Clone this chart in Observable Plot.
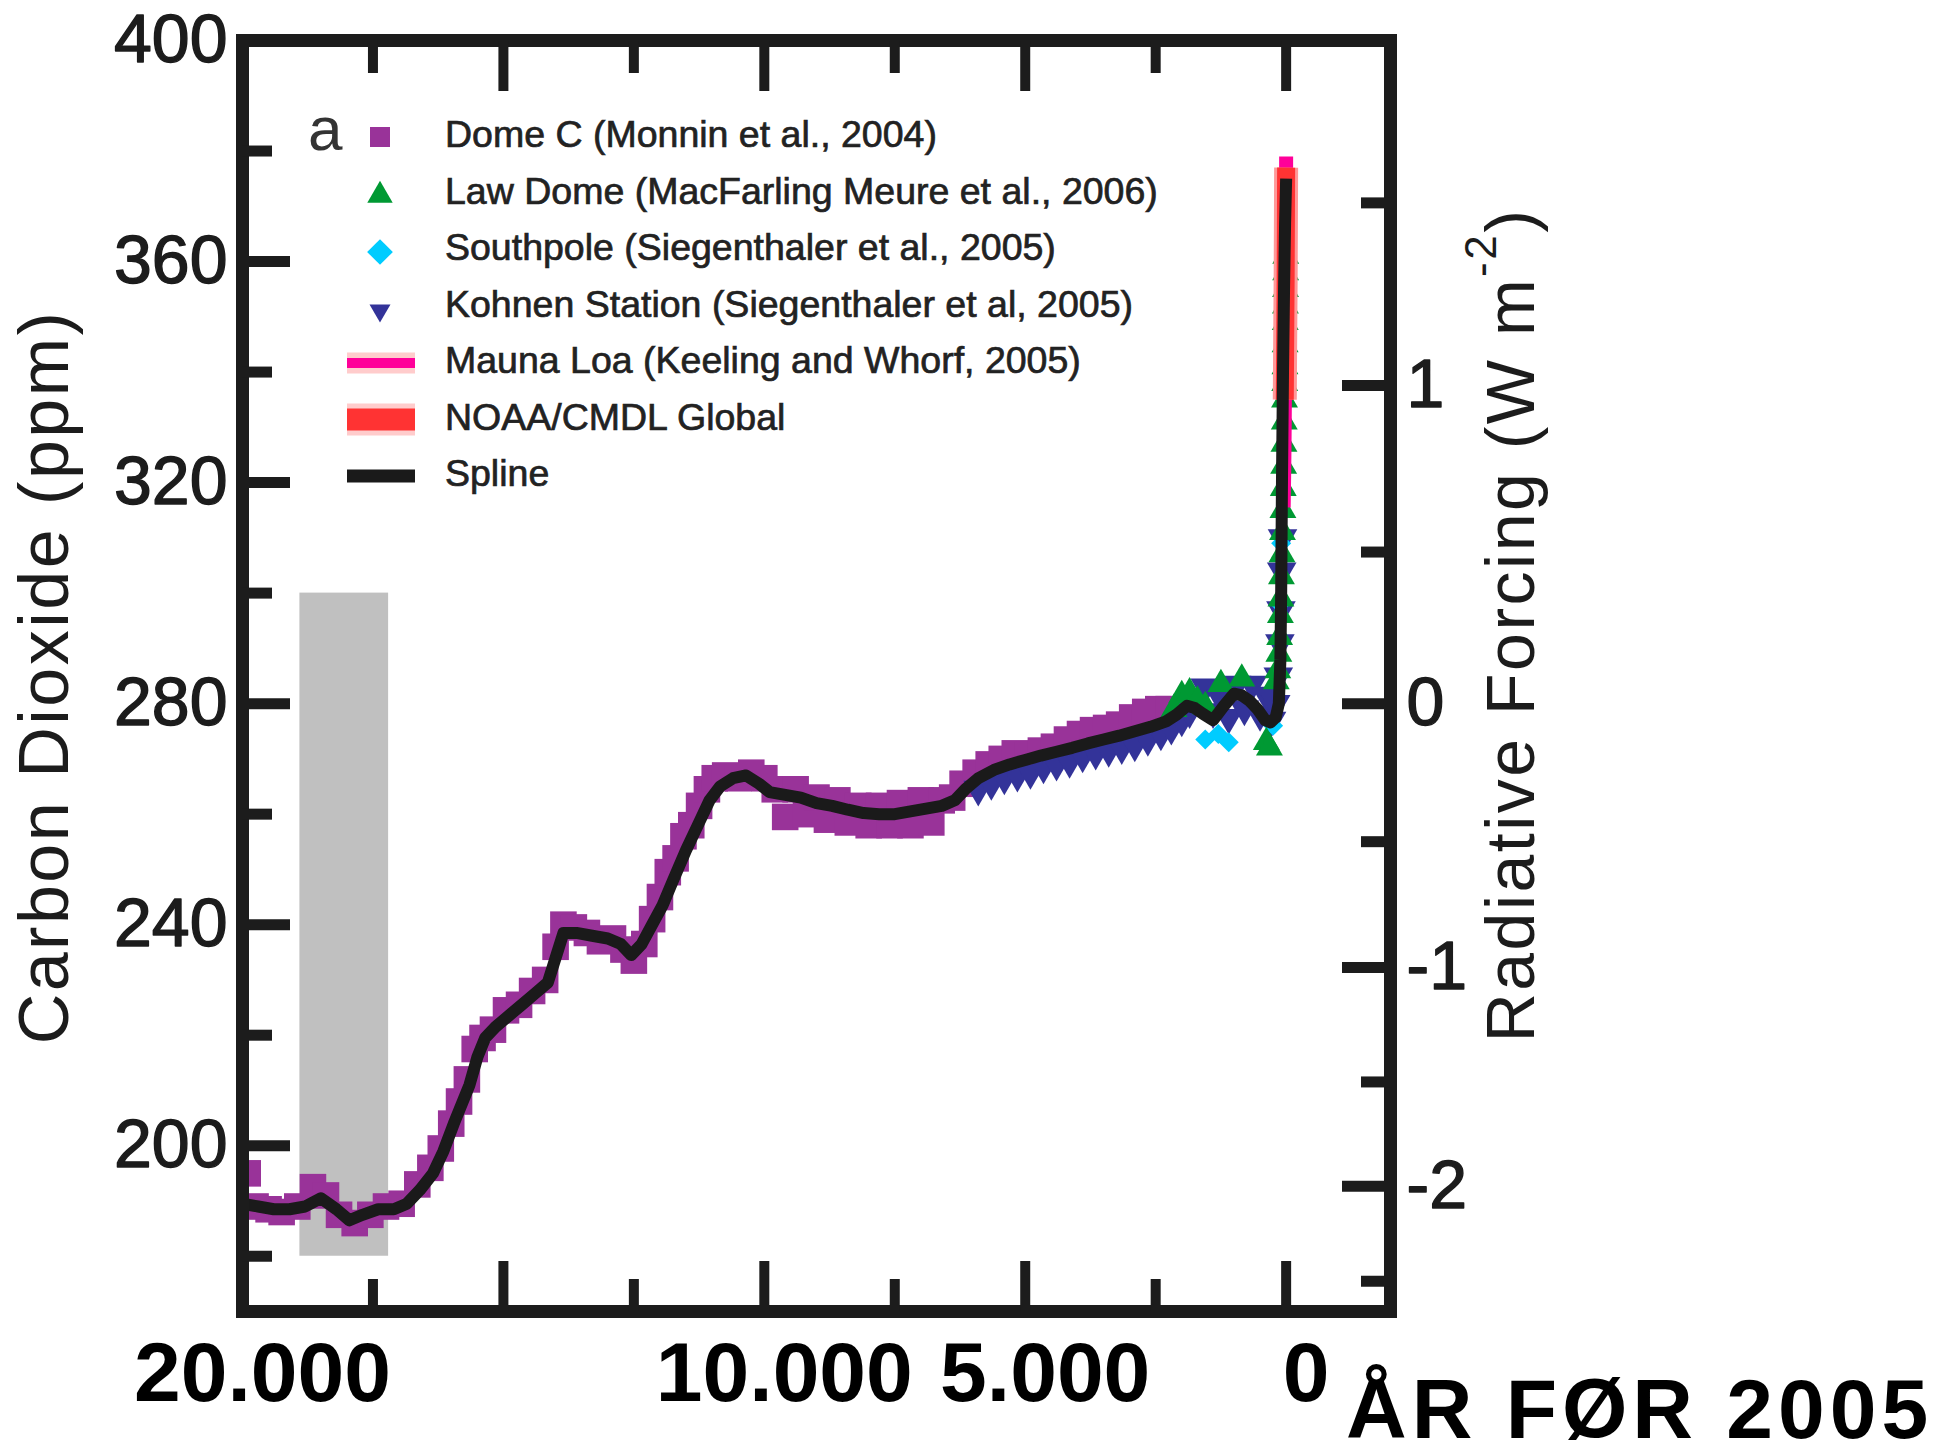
<!DOCTYPE html>
<html>
<head>
<meta charset="utf-8">
<script src="https://cdn.jsdelivr.net/npm/d3@7"></script>
<script src="https://cdn.jsdelivr.net/npm/@observablehq/plot@0.6"></script>
<style>
html, body { margin: 0; padding: 0; background: #fff; }
#chart svg { display: block; }
</style>
</head>
<body>
<div id="chart"></div>
<script>
// ---------- Data (years before 2005, CO2 ppm) ----------
const splineYears = [20000,19700,19400,19100,18800,18500,18200,17950,17700,17400,17100,16850,16600,16350,16150,15950,15800,15650,15500,15350,15150,14900,14650,14400,14150,14000,13850,13600,13300,13000,12750,12550,12350,12150,11950,11750,11500,11250,11050,10850,10600,10350,10100,9900,9600,9300,9000,8700,8400,8100,7800,7500,7200,6900,6600,6350,6150,5900,5600,5300,5000,4700,4400,4100,3800,3500,3200,2900,2600,2300,2100,1900,1750,1600,1400,1200,1000,850,700,550,400,300,200,140,110,95,80,60,40,20,0];
const splineCO2 = [189.5,189,188.5,188.5,189,190.5,188.5,186.5,187.5,188.5,188.5,189.5,192,195,199,204,207.5,211,216,219.5,221.5,223.5,225.5,227.5,229.5,234,238.5,238.5,238,237.5,236.5,234.5,236.5,240,243.5,248,253.5,258.5,262.5,265,266.5,267,265.5,264,263.5,263,262,261.5,260.8,260.2,260,260,260.5,261,261.5,262.5,264.5,266.5,268,269,269.8,270.6,271.3,272,272.8,273.5,274.2,275,275.8,276.8,278,279.6,279.2,278.2,277,279.5,281.8,281.5,280.5,279,277,276.6,277.5,280,288,300,320,340,355,367,375];

const domeCYears = [19900,19750,19500,19250,18950,18650,18400,18150,17850,17550,17250,16950,16650,16400,16200,16000,15850,15700,15550,15400,15200,14950,14700,14450,14200,14000,13850,13650,13400,13150,12900,12700,12500,12300,12150,12000,11850,11700,11550,11400,11250,11100,10950,10750,10500,10250,10000,9800,9600,9400,9200,9000,8800,8600,8400,8200,8000,7800,7600,7400,7200,7000,6800,6600,6400,6200,5950,5700,5450,5200,4950,4700,4450,4200,3950,3700,3450,3200,2950,2700,2450,2250];
const domeCCO2 = [195,189,188.5,188,189,192.5,191,187.5,186,187.5,189,189.5,193,196,199.5,204,208,212,217.5,219.5,221,224.5,225.5,228,230,236,240,239.5,238.5,237,237.5,235.5,233.5,236.5,241,245,249.5,252,256,258,261.5,264.5,266.5,267,266.5,267.5,266.5,264.5,259.5,264.5,260,263,259,262.5,258.5,261.5,258,261.5,258,262,258,262.5,258.5,262.5,263,265.5,267.5,269,270,271,270.8,271.5,272.2,273.5,274.5,275.2,275.6,276.2,277.5,278.5,279,279];

const lawDomeYears = [2150,2000,1850,1700,1550,1250,850,380,320,190,160,140,125,110,100,90,80,70,62,55,48,42,36,31,27,23,20,17,14,12,10,8];
const lawDomeCO2 = [279,281.5,282,280.5,279.5,283.5,284.5,273,272,284,286,289,292,296,299,303,307,311,315,319,323,327,331,335,338,341,345,349,352,355,358,361];

const southpoleYears = [1550,1300,1100,250,115,95];
const southpoleCO2 = [273.5,274.5,273,276,298,309];

const kohnenYears = [5900,5650,5400,5150,4900,4650,4400,4150,3900,3650,3400,3150,2900,2650,2400,2200,2000,1850,1700,1550,1400,1250,1100,950,800,650,500,380,280,200,150,120,100,85,70];
const kohnenCO2 = [264.5,265.5,266.5,267,267.5,268.5,269,269.5,270.5,271,271.5,272,272.5,273.5,274.5,275.5,277,278.5,281,283,278.5,281,277.5,283.5,279,283.5,278,281.5,277,280,285,291,297,304,310];

const maunaLoaYears = [47,42,37,32,27,22,17,12,7,2,0];
const maunaLoaCO2 = [315.5,319,322,326,331,338,344,351,357,367,379];

const noaaYears = [26,20,15,10,5,0];
const noaaCO2 = [335,343.5,350,356,366,377];

// natural glacial-interglacial range (grey bar)
const rangeYears = [18900, 17200];
const rangeCO2 = [180, 300];

// ---------- Axis tick values / labels ----------
const xLabelYears = [20000, 10000, 5000, 0];
const xLabelTexts = ["20.000", "10.000", "5.000", "0"];
const xMajorTicks = [15000, 10000, 5000, 0];
const xMinorTicks = [17500, 12500, 7500, 2500];
const yLabelValues = [200, 240, 280, 320, 360, 400];
const yMajorTicks = [200, 240, 280, 320, 360];
const yMinorTicks = [180, 220, 260, 300, 340, 380];
const rfMajor = [-2, -1, 0, 1];
const rfLabels = ["-2", "-1", "0", "1"];
const rfMinor = [-2.5, -1.5, -0.5, 0.5, 1.5];
const rfRefCO2 = 280; // ppm at zero forcing

const legendLabels = [
  "Dome C (Monnin et al., 2004)",
  "Law Dome (MacFarling Meure et al., 2006)",
  "Southpole (Siegenthaler et al., 2005)",
  "Kohnen Station (Siegenthaler et al, 2005)",
  "Mauna Loa (Keeling and Whorf, 2005)",
  "NOAA/CMDL Global",
  "Spline"
];

// ---------- Build tables ----------
const zip = (xs, ys) => xs.map((x, i) => ({year: x, co2: ys[i]}));
const spline = zip(splineYears, splineCO2);
const domeC = zip(domeCYears, domeCCO2);
const lawDome = zip(lawDomeYears, lawDomeCO2);
const southpole = zip(southpoleYears, southpoleCO2);
const kohnen = zip(kohnenYears, kohnenCO2);
const maunaLoa = zip(maunaLoaYears, maunaLoaCO2);
const noaa = zip(noaaYears, noaaCO2);
const range = [{x1: rangeYears[0], x2: rangeYears[1], y1: rangeCO2[0], y2: rangeCO2[1]}];

const rfToPpm = rf => rfRefCO2 * Math.exp(rf / 5.35);
const rfMajorPpm = rfMajor.map(rfToPpm);
const rfMinorPpm = rfMinor.map(rfToPpm);
const rfLabelMap = new Map(rfMajorPpm.map((p, i) => [p, rfLabels[i]]));
const xLabelMap = new Map(xLabelYears.map((y, i) => [y, xLabelTexts[i]]));

const INK = "#1c1c1c";
const blank = () => "";

const plot = Plot.plot({
  width: 1940,
  height: 1456,
  marginLeft: 242,
  marginRight: 550,
  marginTop: 40,
  marginBottom: 145,
  x: {domain: [20000, -2000]},
  y: {domain: [170, 400]},
  style: {fontFamily: "'Liberation Sans', Arial, Helvetica, sans-serif", fontSize: "12px", color: INK, background: "#fff"},
  marks: [
    Plot.rect(range, {x1: "x1", x2: "x2", y1: "y1", y2: "y2", fill: "#c0c0c0"}),
    Plot.dot(domeC, {x: "year", y: "co2", symbol: "square", r: 15, fill: "#993399", clip: true}),
    Plot.dot(kohnen, {x: "year", y: "co2", symbol: "triangle", rotate: 180, r: 11, fill: "#333399", clip: true}),
    Plot.dot(southpole, {x: "year", y: "co2", symbol: "square", rotate: 45, r: 8, fill: "#00ccff", clip: true}),
    Plot.dot(lawDome, {x: "year", y: "co2", symbol: "triangle", r: 10, fill: "#009933", clip: true}),
    Plot.line(maunaLoa, {x: "year", y: "co2", stroke: "#ff0099", strokeWidth: 14, strokeLinecap: "butt"}),
    Plot.line(noaa, {x: "year", y: "co2", stroke: "#ff9999", strokeWidth: 24, strokeLinecap: "butt"}),
    Plot.line(noaa, {x: "year", y: "co2", stroke: "#ff3333", strokeWidth: 18, strokeLinecap: "butt"}),
    Plot.line(spline, {x: "year", y: "co2", stroke: "#1a1a1a", strokeWidth: 12, strokeLinejoin: "round", strokeLinecap: "butt"}),
    Plot.frame({stroke: INK, strokeWidth: 13}),
    // inward ticks
    Plot.axisX(xMajorTicks, {anchor: "bottom", tickSize: 50, dy: -50, strokeWidth: 10, stroke: INK, tickFormat: blank, label: null}),
    Plot.axisX(xMinorTicks, {anchor: "bottom", tickSize: 32, dy: -32, strokeWidth: 10, stroke: INK, tickFormat: blank, label: null}),
    Plot.axisX(xMajorTicks, {anchor: "top", tickSize: 50, dy: 50, strokeWidth: 10, stroke: INK, tickFormat: blank, label: null}),
    Plot.axisX(xMinorTicks, {anchor: "top", tickSize: 32, dy: 32, strokeWidth: 10, stroke: INK, tickFormat: blank, label: null}),
    Plot.axisY(yMajorTicks, {anchor: "left", tickSize: 48, dx: 48, strokeWidth: 11, stroke: INK, tickFormat: blank, label: null}),
    Plot.axisY(yMinorTicks, {anchor: "left", tickSize: 30, dx: 30, strokeWidth: 11, stroke: INK, tickFormat: blank, label: null}),
    Plot.axisY(rfMajorPpm, {anchor: "right", tickSize: 49, dx: -49, strokeWidth: 11, stroke: INK, tickFormat: blank, label: null}),
    Plot.axisY(rfMinorPpm, {anchor: "right", tickSize: 30, dx: -30, strokeWidth: 11, stroke: INK, tickFormat: blank, label: null}),
    // tick labels
    Plot.axisX(xLabelYears, {anchor: "bottom", tickSize: 0, tickPadding: 30, dx: 20, fontSize: 84, fontWeight: "bold", fill: "#000", tickFormat: d => xLabelMap.get(d), label: null}),
    Plot.axisY(yLabelValues, {anchor: "left", tickSize: 0, tickPadding: 15, fontSize: 68, fill: INK, textStroke: INK, textStrokeWidth: 1.4, tickFormat: d => String(d), label: null}),
    Plot.axisY(rfMajorPpm, {anchor: "right", tickSize: 0, tickPadding: 16, fontSize: 68, fill: INK, textStroke: INK, textStrokeWidth: 1.4, tickFormat: d => rfLabelMap.get(d), label: null})
  ]
});

document.getElementById("chart").appendChild(plot);

// ---------- Titles, axis labels and legend ----------
const svg = d3.select(plot);
const FONT = "'Liberation Sans', Arial, Helvetica, sans-serif";

svg.append("text")
  .attr("transform", "translate(68,677) rotate(-90)")
  .attr("text-anchor", "middle")
  .attr("font-family", FONT).attr("font-size", 70).attr("letter-spacing", 2.5)
  .attr("fill", INK)
  .text("Carbon Dioxide (ppm)");

const rl = svg.append("text")
  .attr("transform", "translate(1534,625) rotate(-90)")
  .attr("text-anchor", "middle")
  .attr("font-family", FONT).attr("font-size", 68).attr("letter-spacing", 2.5)
  .attr("fill", INK);
rl.append("tspan").text("Radiative Forcing (W m");
rl.append("tspan").attr("dy", -38).attr("font-size", 44).text("-2");
rl.append("tspan").attr("dy", 38).text(")");

svg.append("text")
  .attr("x", 1346).attr("y", 1438)
  .attr("text-anchor", "start")
  .attr("font-family", FONT).attr("font-size", 84).attr("font-weight", "bold")
  .attr("letter-spacing", 5).attr("fill", "#000")
  .text("ÅR FØR 2005");

// legend
const lg = svg.append("g").attr("text-anchor", "start");
lg.append("text").attr("x", 308).attr("y", 150)
  .attr("font-family", FONT).attr("font-size", 62).attr("fill", "#333").text("a");

const rowBase = i => 147 + 56.5 * i;
legendLabels.forEach((label, i) => {
  lg.append("text")
    .attr("x", 445).attr("y", rowBase(i))
    .attr("text-anchor", "start")
    .attr("font-family", FONT).attr("font-size", 37.5)
    .attr("fill", "#222").attr("stroke", "#222").attr("stroke-width", 0.7)
    .text(label);
});
const cy = i => rowBase(i) - 10;
const sym = (type, size) => d3.symbol().type(type).size(size)();
lg.append("path").attr("d", sym(d3.symbolSquare, 400)).attr("transform", `translate(380,${cy(0)})`).attr("fill", "#993399");
lg.append("path").attr("d", sym(d3.symbolTriangle, 280)).attr("transform", `translate(380,${cy(1) + 2})`).attr("fill", "#009933");
lg.append("path").attr("d", sym(d3.symbolSquare, 330)).attr("transform", `translate(380,${cy(2) + 2}) rotate(45)`).attr("fill", "#00ccff");
lg.append("path").attr("d", sym(d3.symbolTriangle, 190)).attr("transform", `translate(380,${cy(3) + 4}) rotate(180)`).attr("fill", "#333399");
// Mauna Loa
lg.append("rect").attr("x", 347).attr("y", cy(4) - 10.5).attr("width", 68).attr("height", 21).attr("fill", "#ffcccc");
lg.append("rect").attr("x", 347).attr("y", cy(4) - 5).attr("width", 68).attr("height", 10).attr("fill", "#ff0099");
// NOAA
lg.append("rect").attr("x", 347).attr("y", cy(5) - 16).attr("width", 68).attr("height", 32).attr("fill", "#ffcccc");
lg.append("rect").attr("x", 347).attr("y", cy(5) - 11).attr("width", 68).attr("height", 22).attr("fill", "#ff3333");
// Spline
lg.append("rect").attr("x", 347).attr("y", cy(6) - 6.5).attr("width", 68).attr("height", 13).attr("fill", "#1a1a1a");
</script>
</body>
</html>
